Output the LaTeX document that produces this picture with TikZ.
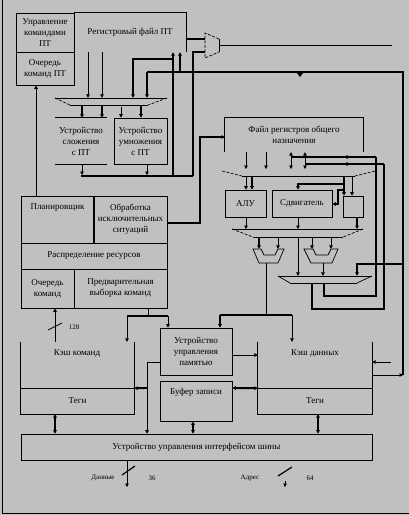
\documentclass[tikz,border=0pt]{standalone}
\usepackage{fontspec}
\setmainfont{Liberation Serif}
\usetikzlibrary{arrows.meta,calc}
\definecolor{bg}{HTML}{C0C0C0}
\tikzset{
  ln/.style={line width=0.7pt},
  md/.style={line width=1.2pt},
  tk/.style={line width=1.9pt},
  arr/.style={-{Triangle[length=3.5pt,width=3.6pt]}},
  darr/.style={{Triangle[length=3.5pt,width=3.6pt]}-{Triangle[length=3.5pt,width=3.6pt]}},
  dsh/.style={line width=0.7pt,dash pattern=on 3pt off 1.5pt},
  bx/.style={draw,line width=0.7pt,inner sep=0pt,align=center,font=\fontsize{9}{11}\selectfont},
  hid/.style={inner sep=0pt,align=center,font=\fontsize{9}{11}\selectfont},
  txt/.style={inner sep=0pt,align=center,font=\fontsize{9}{11}\selectfont},
  sm/.style={inner sep=0pt,font=\fontsize{7}{8}\selectfont}
}
\begin{document}
\begin{tikzpicture}[x=1pt,y=-1pt]
\fill[bg] (0,0) rectangle (409,515);
\useasboundingbox (0,0) rectangle (409,515);
\draw[ln] (2,0) -- (2,513) -- (409,513);

% ---------- FP part ----------
\node[bx,minimum width=58pt,minimum height=39pt] (ctl) at (45,32.5) {Управление\\командами\\ПТ};
\node[bx,minimum width=58pt,minimum height=33pt] (fpq) at (45,68.5) {Очередь\\команд ПТ};
\node[hid,minimum width=112pt,minimum height=39pt] (fpreg) at (130,32.5) {Регистровый файл ПТ};
\draw[ln] (fpreg.north west) -- (fpreg.north east) -- (fpreg.south east);

\node[hid,minimum width=112pt,minimum height=7pt] (fpmux) at (111,101.5) {};
\draw[ln] (55,98) -- (167,98);
\draw[dsh] (55,98) -- (70,105);
\draw[dsh] (167,98) -- (148,105);
\draw[ln] (70,105) -- (148,105);

\node[hid,minimum width=14pt,minimum height=25pt] (outmux) at (212,45.5) {};
\draw[dsh] (219,39) -- (205,33) -- (205,58) -- (219,52);
\draw[ln] (219,39) -- (219,52);

\node[hid,minimum width=52pt,minimum height=46pt] (add) at (81,141) {Устройство\\сложения\\с ПТ};
\draw[ln] (add.north west) -- (add.north east);
\draw[ln] (add.south west) -- (add.south east);
\node[bx,minimum width=53pt,minimum height=46pt] (mul) at (140.5,141) {Устройство\\умножения\\с ПТ};

\draw[ln,arr] (88,0 |- fpreg.south) -- (88,0 |- fpmux.north);
\draw[ln,arr] (102,0 |- fpreg.south) -- (102,0 |- fpmux.north);
\draw[tk,arr] (173,176) -- (173,0 |- fpreg.south);
\draw[tk,arr] (173,59) -- (133,59) -- (133,0 |- fpmux.north);
\draw[tk] (193,176) -- (193,52) -- (outmux.west |- 0,52);
\draw[tk] (fpreg.east |- 0,39) -- (outmux.west |- 0,39);
\draw[md] (outmux.east) -- (392,45.5);

\draw[tk] (147,72) -- (403,72) -- (403,375);
\draw[tk,arr] (147,72) -- (147,0 |- fpmux.north);
\draw[tk,arr] (180,72) -- (180,0 |- fpreg.south);
\fill (297,73) -- (303,73) -- (300,77) -- cycle;

\draw[md,arr] (82,105) -- (82,0 |- add.north);
\draw[md,arr] (102,105) -- (102,0 |- add.north);
\draw[ln,arr] (121,107) -- (121,0 |- mul.north);
\draw[tk,arr] (141,105) -- (141,0 |- mul.north);

\draw[tk] (81,176) -- (193,176);
\draw[ln,arr] (82,0 |- add.south) -- (82,175);
\draw[ln,arr] (147,0 |- mul.south) -- (147,175);

% ---------- control block ----------
\node[bx,minimum width=73pt,minimum height=47pt] (sched) at (57.5,219.5) {};
\node[txt] at (57.5,208) {Планировщик};
\node[bx,minimum width=73pt,minimum height=47pt] (exc) at (130.5,219.5) {Обработка\\исключительных\\ситуаций};
\draw[tk] (sched.north east) -- (sched.south east);
\node[bx,minimum width=146pt,minimum height=26pt] (res) at (94,256) {Распределение ресурсов};
\node[bx,minimum width=53pt,minimum height=39pt] (iq) at (47.5,288.5) {Очередь\\команд};
\node[bx,minimum width=93pt,minimum height=39pt] (pf) at (120.5,288.5) {Предварительная\\выборка команд};

\draw[ln,arr] (36,0 |- sched.north) -- (36,0 |- fpq.south);
\draw[tk,arr] (exc.east |- 0,223) -- (200,223) -- (200,137) -- (225,137);

% ---------- integer part ----------
\node[hid,minimum width=138pt,minimum height=34pt] (gpr) at (294,135) {Файл регистров общего\\назначения};
\draw[ln] (gpr.south west) -- (gpr.north west) -- (gpr.north east) -- (gpr.south east);

\node[hid,minimum width=153pt,minimum height=5pt] (gprmux) at (298.5,173.5) {};
\draw[dsh] (222,171) -- (242,176);
\draw[dsh] (375,171) -- (355,176);
\draw[ln] (242,176) -- (355,176);

\draw[ln,arr] (246,0 |- gpr.south) -- (246,169);
\draw[ln,arr] (266,0 |- gpr.south) -- (266,169);
\draw[ln,darr] (291,0 |- gpr.south) -- (291,169);
\draw[ln,darr] (305,0 |- gpr.south) -- (305,169);
\draw[tk,arr] (376,157) -- (344,157);
\draw[tk] (346,157) -- (291,157);
\draw[tk,arr] (384,164) -- (344,164);
\draw[tk] (346,164) -- (305,164);

\node[bx,minimum width=41pt,minimum height=27pt] (alu) at (245.5,203.5) {АЛУ};
\node[bx,minimum width=60pt,minimum height=27pt] (shf) at (302,203.5) {Сдвигатель};
\node[bx,minimum width=20pt,minimum height=21pt] (sbx) at (353,206.5) {};

\draw[ln,arr] (246,176) -- (246,0 |- alu.north);
\draw[tk,arr] (252,176) -- (252,0 |- alu.north);
\draw[tk,arr] (344,176) -- (344,0 |- sbx.north);
\draw[tk,arr] (344,184) -- (298,184) -- (298,0 |- shf.north);
\draw[tk,arr] (344,190) -- (338,190) -- (338,204) -- (shf.east |- 0,204);
\draw[ln,arr] (352,176) -- (352,0 |- sbx.north);

% big trapezoid
\node[hid,minimum width=131pt,minimum height=8pt] (trap) at (297.5,233) {};
\draw[ln] (232,229) -- (363,229);
\draw[dsh] (232,229) -- (253,237);
\draw[dsh] (363,229) -- (343,237);
\draw[ln] (253,237) -- (343,237);
\draw[ln,arr] (246,0 |- alu.south) -- (246,229);
\draw[ln,arr] (298,0 |- shf.south) -- (298,229);
\draw[tk,arr] (357,0 |- sbx.south) -- (357,229);

% small muxes
\node[hid,minimum width=31pt,minimum height=14pt] (ma) at (268.5,256) {};
\node[hid,minimum width=34pt,minimum height=14pt] (mb) at (321,256) {};
\draw[ln] (253,249) -- (261,249) -- (264,255) -- (275,255) -- (278,249) -- (284,249) -- (278,263) -- (259,263) -- cycle;
\draw[ln] (304,249) -- (313,249) -- (316,255) -- (328,255) -- (331,249) -- (338,249) -- (332,263) -- (311,263) -- cycle;
\draw[tk,arr] (259,237) -- (259,0 |- ma.north);
\draw[ln,arr] (278,237) -- (278,0 |- ma.north);
\draw[ln,arr] (312,237) -- (312,0 |- mb.north);
\draw[ln,arr] (331,237) -- (331,0 |- mb.north);

% lower trapezoid
\node[hid,minimum width=94pt,minimum height=7pt] (trb) at (325,279.5) {};
\draw[ln] (278,276) -- (372,276);
\draw[ln] (278,276) -- (290,283);
\draw[ln] (372,276) -- (357,283);
\draw[ln] (290,283) -- (357,283);
\draw[ln,arr] (298,237) -- (298,0 |- trb.north);
\draw[ln,arr] (323,0 |- mb.south) -- (323,0 |- trb.north);
\draw[tk,arr] (403,264) -- (357,264) -- (357,0 |- trb.north);
\draw[tk] (324,283) -- (324,296) -- (376,296) -- (376,157);
\draw[tk] (312,283) -- (312,309) -- (384,309) -- (384,164);

% ---------- memory part ----------
\node[hid,minimum width=113pt,minimum height=46pt] (icache) at (77.5,365) {};
\node[txt] at (77,353) {Кэш команд};
\node[hid,minimum width=113pt,minimum height=26pt] (itag) at (77.5,401) {Теги};
\draw[ln] (icache.north west) -- (itag.south west) -- (itag.south east) -- (icache.north east);
\draw[ln] (icache.south west) -- (icache.south east);

\node[hid,minimum width=114pt,minimum height=46pt] (dcache) at (315,365) {};
\node[txt] at (315,353) {Кэш данных};
\node[hid,minimum width=114pt,minimum height=26pt] (dtag) at (315,401) {Теги};
\draw[ln] (dcache.north west) -- (dtag.south west) -- (dtag.south east) -- (dcache.north east);
\draw[ln] (dcache.south west) -- (dcache.south east);

\node[bx,minimum width=72pt,minimum height=47pt] (mmu) at (196,351.5) {Устройство\\управления\\памятью};
\node[bx,minimum width=72pt,minimum height=40pt] (wbuf) at (196,401) {};
\node[txt] at (196,392) {Буфер записи};
\node[bx,minimum width=351pt,minimum height=26pt] (biu) at (196.5,447) {Устройство управления интерфейсом шины};

\draw[ln,arr] (55,0 |- icache.north) -- (55,0 |- iq.south);
\draw[ln] (48,330) -- (62,323);
\node[sm] at (74,327) {128};

\draw[ln] (148,0 |- pf.south) -- (148,316);
\draw[tk] (127,316) -- (168,316);
\draw[ln,arr] (127,316) -- (127,0 |- icache.north);
\draw[ln,arr] (168,316) -- (168,0 |- mmu.north);

\draw[ln] (266,0 |- ma.south) -- (266,315);
\draw[tk] (220,315) -- (292,315);
\draw[tk,arr] (220,315) -- (220,0 |- mmu.north);
\draw[ln,arr] (292,315) -- (292,0 |- dcache.north);

\draw[ln,arr] (mmu.east |- 0,355) -- (dcache.west |- 0,355);
\draw[ln] (mmu.west |- 0,362) -- (147,362);
\draw[ln,arr] (147,362) -- (147,0 |- biu.north);
\draw[tk,arr] (147,388) -- (icache.south east);
\draw[tk,darr] (wbuf.east |- 0,388) -- (dcache.south west);
\draw[md,darr] (55,0 |- itag.south) -- (55,0 |- biu.north);
\draw[tk,darr] (193,0 |- wbuf.south) -- (193,0 |- biu.north);
\draw[tk,darr] (318,0 |- dtag.south) -- (318,0 |- biu.north);
\draw[ln,arr] (391,362) -- (dcache.east |- 0,362);
\draw[ln,arr] (dcache.east |- 0,375) -- (403,375);

% bus lines
\draw[ln,arr] (127,0 |- biu.south) -- (127,487);
\draw[md] (122,475) -- (135,466);
\node[sm] at (103,478) {Данные};
\node[sm] at (152,478) {36};
\draw[md] (278,476) -- (292,467);
\draw[ln,arr] (285,481) -- (285,487);
\node[sm] at (250,478) {Адрес};
\node[sm] at (310,478) {64};
\end{tikzpicture}
\end{document}
